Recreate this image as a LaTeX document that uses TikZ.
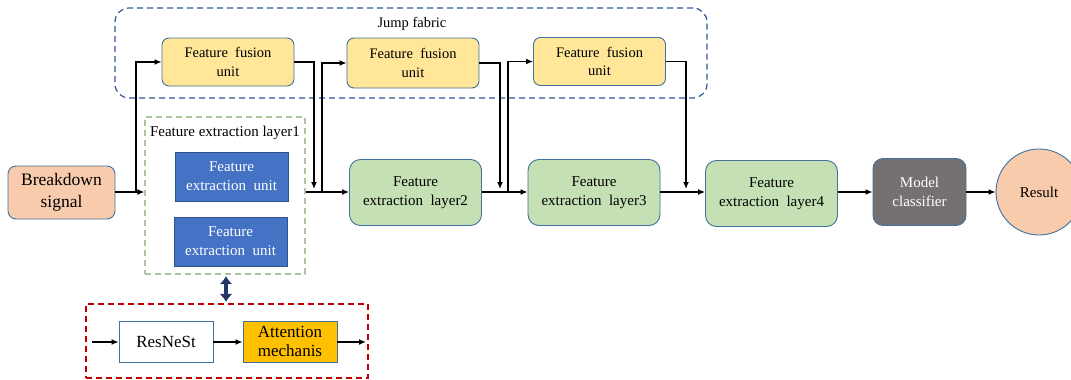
\documentclass[tikz,border=0pt]{standalone}
\usepackage{fontspec}
\setmainfont{Liberation Serif}
\usetikzlibrary{arrows.meta,calc}
\definecolor{bordb}{HTML}{41719C}
\definecolor{ffufill}{HTML}{FFE699}
\definecolor{felfill}{HTML}{C5E0B4}
\definecolor{feufill}{HTML}{4472C4}
\definecolor{feubord}{HTML}{2F528F}
\definecolor{peach}{HTML}{F8CBAD}
\definecolor{mcgray}{HTML}{767171}
\definecolor{attfill}{HTML}{FFC000}
\definecolor{jumpc}{HTML}{2F5597}
\definecolor{greend}{HTML}{A9C79A}
\definecolor{redd}{HTML}{C00000}
\definecolor{navy}{HTML}{1F3864}
\tikzset{
  base/.style={draw=bordb, line width=0.9pt, align=center, inner sep=1pt},
  ffu/.style={base, rounded corners=7pt, fill=ffufill, minimum width=132pt, minimum height=48pt, font=\fontsize{14.5}{18.5}\selectfont},
  fel/.style={base, rounded corners=11pt, fill=felfill, minimum width=132pt, minimum height=66pt, font=\fontsize{15}{19}\selectfont},
  feu/.style={draw=feubord, line width=0.9pt, fill=feufill, text=white, align=center, minimum width=113pt, minimum height=49pt, font=\fontsize{15}{19}\selectfont},
  arr/.style={draw=black, line width=1.3pt, -{Latex[length=7pt,width=6pt]}},
  dbl/.style={draw=navy, line width=4pt, {Latex[length=8pt,width=13pt]}-{Latex[length=8pt,width=13pt]}},
}
\begin{document}
\begin{tikzpicture}[x=1pt,y=-1pt]
\useasboundingbox (0,0) rectangle (1071,380);
% jump fabric group
\node[draw=jumpc, dash pattern=on 6pt off 4pt, line width=1.2pt, rounded corners=14pt, minimum width=592pt, minimum height=90pt] (jump) at (411,53) {};
\node[font=\fontsize{14.5}{17}\selectfont] (jumplbl) at (412,24) {Jump fabric};
% feature extraction layer 1 group
\node[draw=greend, dash pattern=on 6pt off 4pt, line width=1.3pt, minimum width=160pt, minimum height=157pt] (fel1) at (225,195.5) {};
\node[font=\fontsize{15}{18}\selectfont] (fel1lbl) at (225,133) {Feature extraction layer1};
\node[feu] (feu1) at (231.5,176.5) {Feature\\extraction\ \ unit};
\node[feu] (feu2) at (230.5,241.5) {Feature\\extraction\ \ unit};
% sub-module group
\node[draw=redd, dash pattern=on 6pt off 4pt, line width=1.2pt, minimum width=282pt, minimum height=74pt] (sub) at (227,341) {};
\node[draw=bordb, line width=0.9pt, fill=white, minimum width=94pt, minimum height=41pt, font=\fontsize{17}{20}\selectfont] (resn) at (166,341.5) {ResNeSt};
\node[draw=bordb, line width=0.9pt, fill=attfill, align=center, minimum width=94pt, minimum height=41pt, font=\fontsize{17}{19}\selectfont] (attn) at (290,341.5) {Attention\\mechanis};
% main nodes
\node[base, rounded corners=8pt, fill=peach, minimum width=107pt, minimum height=53pt, font=\fontsize{17.5}{22}\selectfont] (bs) at (61.5,192.5) {Breakdown\\signal};
\node[ffu] (ffu1) at (228,62) {Feature\ \ fusion\\unit};
\node[ffu, minimum height=50pt] (ffu2) at (413,63) {Feature\ \ fusion\\unit};
\node[ffu] (ffu3) at (599.5,61.5) {Feature\ \ fusion\\unit};
\node[fel] (fel2) at (415.5,192.5) {Feature\\extraction\ \ layer2};
\node[fel] (fel3) at (594,192.5) {Feature\\extraction\ \ layer3};
\node[fel] (fel4) at (771.5,193.5) {Feature\\extraction\ \ layer4};
\node[base, rounded corners=10pt, fill=mcgray, text=white, minimum width=93pt, minimum height=67pt, font=\fontsize{15}{19}\selectfont] (mc) at (919.5,192) {Model\\classifier};
\node[draw=bordb, line width=0.9pt, circle, fill=peach, minimum size=86pt, font=\fontsize{15}{18}\selectfont] (res) at (1039,192) {Result};
% coordinates
\coordinate (j1) at (136,192);
\coordinate (j2) at (322,192);
\coordinate (j3) at (508,192);
\coordinate (d1) at (314,189);
\coordinate (d2) at (500,189);
\coordinate (d3) at (686,189);
\coordinate (sin) at (92,342);
\coordinate (sout) at (366,342);
% connectors
\draw[arr] (bs.east |- j1) -- (fel1.west |- j1);
\draw[arr] (j1) |- (ffu1.west);
\draw[arr] (ffu1.east) -| (d1);
\draw[arr] (fel1.east |- j2) -- (fel2.west |- j2);
\draw[arr] (j2) |- (ffu2.west);
\draw[arr] (ffu2.east) -| (d2);
\draw[arr] (fel2.east |- j3) -- (fel3.west |- j3);
\draw[arr] (j3) |- (ffu3.west);
\draw[arr] (ffu3.east) -| (d3);
\draw[arr] (fel3.east |- j3) -- (fel4.west |- j3);
\draw[arr] (fel4.east |- mc.west) -- (mc.west);
\draw[arr] (mc.east) -- (res.west);
\draw[dbl] ($(fel1.south)+(1,1.5)$) -- ($(fel1.south |- sub.north)+(1,-1.5)$);
\draw[arr] (sin) -- (resn.west |- sin);
\draw[arr] (resn.east |- sin) -- (attn.west |- sin);
\draw[arr] (attn.east |- sin) -- (sout);
\end{tikzpicture}
\end{document}
